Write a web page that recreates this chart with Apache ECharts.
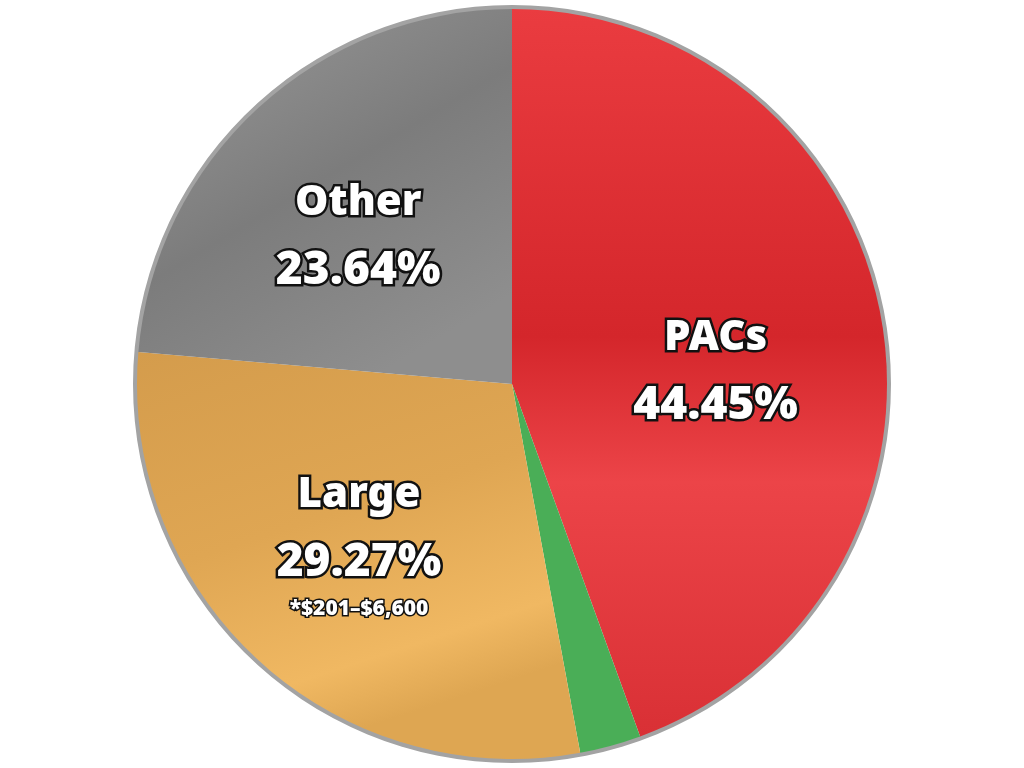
<!DOCTYPE html>
<html>
<head>
<meta charset="utf-8">
<script src="https://cdn.jsdelivr.net/npm/echarts@6/dist/echarts.min.js"></script>
<style>
html,body{margin:0;padding:0;background:#fff;}
#chart{width:1024px;height:768px;}
</style>
</head>
<body>
<div id="chart"></div>
<script>
const categories = ['PACs', 'Small', 'Large', 'Other'];
const values = [44.45, 2.64, 29.27, 23.64];
const notes = ['', '', '*$201–$6,600', ''];
const showLabel = [true, false, true, true];

const colors = [
  { type: 'linear', x: 0, y: 0, x2: 0, y2: 1, colorStops: [
    { offset: 0, color: '#ea3c40' }, { offset: 0.45, color: '#d4262b' },
    { offset: 0.65, color: '#ec4448' }, { offset: 1, color: '#d93035' } ] },
  '#4aae57',
  { type: 'linear', x: 0, y: 0, x2: 0.3, y2: 1, colorStops: [
    { offset: 0, color: '#d49c4c' }, { offset: 0.5, color: '#dfa653' },
    { offset: 0.85, color: '#f0b862' }, { offset: 1, color: '#dea652' } ] },
  { type: 'linear', x: 0, y: 0, x2: 0.6, y2: 1, colorStops: [
    { offset: 0, color: '#9b9b9b' }, { offset: 0.55, color: '#7c7c7c' },
    { offset: 1, color: '#8e8e8e' } ] }
];
const labelOffsets = [[16, 21], [0, 0], [-25, 16], [-25, -7]];

const chart = echarts.init(document.getElementById('chart'));
const fontFam = '"Noto Sans", "DejaVu Sans", sans-serif';
const txt = (size) => ({
  fontFamily: fontFam, fontWeight: 900, fontSize: size, color: '#fff',
  textBorderColor: '#111', textBorderWidth: 5, align: 'center'
});

chart.setOption({
  animation: false,
  series: [
    {
      type: 'pie', silent: true, center: [512, 384], radius: [374, 379],
      label: { show: false }, labelLine: { show: false },
      itemStyle: { color: '#a3a3a3' },
      data: [{ value: 1, name: 'ring' }]
    },
    {
      type: 'pie', center: [512, 384], radius: [0, 375], startAngle: 90, clockwise: true,
      avoidLabelOverlap: false,
      labelLine: { show: false },
      data: categories.map((c, i) => ({
        name: c, value: values[i],
        itemStyle: { color: colors[i] },
        label: {
          show: showLabel[i], position: 'inside', offset: labelOffsets[i],
          formatter: notes[i] ? '{n|{b}}\n{p|{c}%}\n{s|' + notes[i] + '}' : '{n|{b}}\n{p|{c}%}',
          rich: {
            n: Object.assign(txt(42), { lineHeight: 68 }),
            p: Object.assign(txt(46), { lineHeight: 68 }),
            s: Object.assign(txt(21), { lineHeight: 24, textBorderWidth: 3 })
          }
        }
      }))
    }
  ]
});
</script>
</body>
</html>
